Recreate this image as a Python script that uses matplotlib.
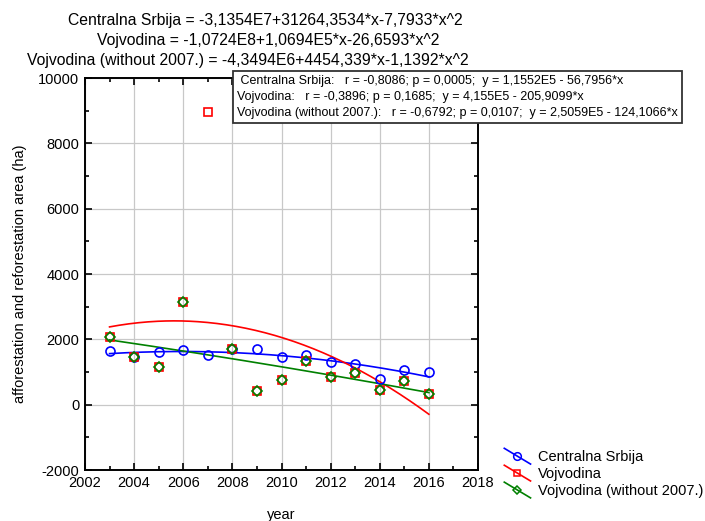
import numpy as np
import matplotlib
matplotlib.use("Agg")
import matplotlib.pyplot as plt
from matplotlib.lines import Line2D
from matplotlib.legend_handler import HandlerBase

plt.rcParams['font.family'] = ['Liberation Sans', 'DejaVu Sans']
plt.rcParams['axes.unicode_minus'] = False

# data
years = [2003, 2004, 2005, 2006, 2007, 2008, 2009, 2010, 2011, 2012, 2013, 2014, 2015, 2016]
srbija = [1640, 1460, 1600, 1670, 1530, 1690, 1710, 1460, 1510, 1315, 1255, 775, 1060, 1000]
vojvodina = [2060, 1450, 1155, 3140, 8960, 1700, 430, 765, 1335, 835, 980, 440, 725, 315]
# same series without the 2007 value
years_wo = [y for y in years if y != 2007]
vojvodina_wo = [v for y, v in zip(years, vojvodina) if y != 2007]

series_names = ['Centralna Srbija', 'Vojvodina', 'Vojvodina (without 2007.)']
title_lines = [
    'Centralna Srbija = -3,1354E7+31264,3534*x-7,7933*x^2',
    'Vojvodina = -1,0724E8+1,0694E5*x-26,6593*x^2',
    'Vojvodina (without 2007.) = -4,3494E6+4454,339*x-1,1392*x^2',
]
stats_lines = [
    ' Centralna Srbija:   r = -0,8086; p = 0,0005;  y = 1,1552E5 - 56,7956*x',
    'Vojvodina:   r = -0,3896; p = 0,1685;  y = 4,155E5 - 205,9099*x',
    'Vojvodina (without 2007.):   r = -0,6792; p = 0,0107;  y = 2,5059E5 - 124,1066*x',
]


class DiagHandler(HandlerBase):
    # legend key drawn as a short diagonal line with the marker in the middle
    def create_artists(self, legend, orig, xdescent, ydescent, width, height, fontsize, trans):
        x0, y0 = -xdescent, -ydescent
        ln = Line2D([x0, x0 + width], [y0 + height + 2, y0 - 2], color=orig.get_color(), lw=1.2)
        mk = Line2D([x0 + width / 2], [y0 + height / 2], marker=orig.get_marker(),
                    ms=orig.get_markersize(), mfc='none', mec=orig.get_markeredgecolor(),
                    mew=orig.get_markeredgewidth(), ls='none')
        for a in (ln, mk):
            a.set_transform(trans)
        return [ln, mk]


fig = plt.figure(figsize=(7.05, 5.21), dpi=100)
ax = fig.add_axes([85 / 705, 51 / 521, 393 / 705, 392 / 521])

styles = [('blue', 'o', 6.5), ('red', 's', 6), ('green', 'D', 5)]
datasets = [(years, srbija), (years, vojvodina), (years_wo, vojvodina_wo)]

handles = []
for (x, y), (c, m, ms), name in zip(datasets, styles, series_names):
    x = np.array(x, dtype=float)
    y = np.array(y, dtype=float)
    coef = np.polyfit(x - 2000, y, 2)
    xs = np.linspace(x.min(), x.max(), 200)
    ax.plot(xs, np.polyval(coef, xs - 2000), color=c, lw=1.2, zorder=2)
    ax.plot(x, y, ls='none', marker=m, ms=ms, mfc='none', mec=c, mew=1.2, zorder=3)
    handles.append(Line2D([], [], color=c, marker=m, ms=ms - 1, mfc='none', mec=c, mew=1.1,
                          label=name))

ax.set_xlim(2002, 2018)
ax.set_ylim(-2000, 10000)
ax.set_xticks(range(2002, 2019, 2))
ax.set_xticks(range(2003, 2018, 2), minor=True)
ax.set_yticks(range(-2000, 10001, 2000))
ax.set_yticks(range(-1000, 10000, 2000), minor=True)
ax.grid(True, which='major', color='#c8c8c8', lw=0.9)
ax.tick_params(which='both', direction='in', top=True, right=True, labelsize=10.5,
               width=1.2, pad=4)
ax.tick_params(which='major', length=5)
ax.tick_params(which='minor', length=3)
for s in ax.spines.values():
    s.set_linewidth(1.4)

ax.set_xlabel('year', fontsize=10.5, labelpad=13)
ax.set_ylabel('afforestation and reforestation area (ha)', fontsize=10.5, labelpad=8)

title_pos = [(265, 20), (268, 41), (248, 60)]
for (px, py), txt in zip(title_pos, title_lines):
    fig.text(px / 705, 1 - py / 521, txt, ha='center', va='center', fontsize=11.3)

fig.text(237 / 705, 1 - 75 / 521, '\n'.join(stats_lines), ha='left', va='top',
         fontsize=9.0, linespacing=1.45,
         bbox=dict(boxstyle='square,pad=0.3', fc='white', ec='#333333', lw=1.3))

fig.legend(handles=handles, loc='upper left', bbox_to_anchor=(497 / 705, 1 - 443 / 521),
           frameon=False, fontsize=10.5, handlelength=1.8, handletextpad=0.5,
           labelspacing=0.2, borderpad=0, handler_map={Line2D: DiagHandler()})

fig.savefig('out.png', dpi=100)
